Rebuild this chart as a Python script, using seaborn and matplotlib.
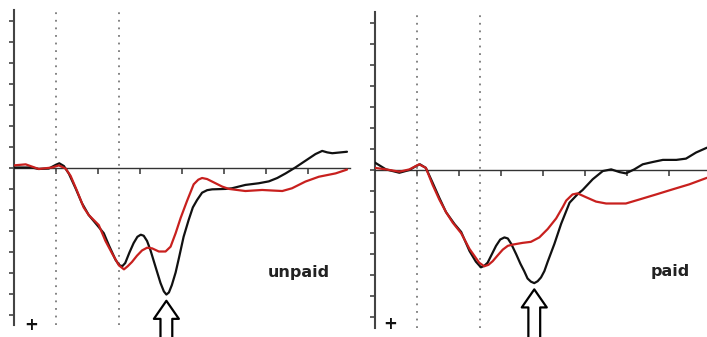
import matplotlib
matplotlib.use("Agg")
import matplotlib.pyplot as plt
import pandas as pd
import seaborn as sns

# Grand-average waveforms (ms, amplitude; positive plotted downward)
unpaid_black_t = [-100, -56, -40, -16, 0, 9, 20, 32, 48, 63, 79, 99, 115, 127, 143, 152,
                  159, 166, 176, 186, 195, 203, 210, 218, 226, 238, 250, 258, 264, 270,
                  277, 286, 294, 305, 317, 327, 337, 349, 361, 373, 405, 420, 452, 484,
                  508, 528, 548, 571, 595, 619, 635, 647, 659, 694]
unpaid_black_v = [0.0, 0.0, 0.07, 0.05, -0.12, -0.2, -0.07, 0.3, 1.0, 1.7, 2.26, 2.74,
                  3.13, 3.7, 4.4, 4.65, 4.7, 4.55, 4.05, 3.6, 3.3, 3.2, 3.25, 3.5, 3.93,
                  4.72, 5.5, 5.9, 6.05, 5.95, 5.6, 5.0, 4.3, 3.3, 2.5, 1.9, 1.55, 1.2, 1.08,
                  1.04, 1.02, 0.99, 0.83, 0.75, 0.66, 0.5, 0.28, 0.0, -0.32, -0.64, -0.79,
                  -0.72, -0.68, -0.75]

unpaid_red_t = [-100, -71, -40, -8, 8, 24, 36, 51, 67, 79, 103, 119, 135, 151, 163, 172,
                182, 194, 206, 218, 230, 246, 262, 274, 286, 298, 313, 329, 340, 349, 361,
                373, 397, 413, 452, 492, 520, 540, 563, 595, 627, 667, 694]
unpaid_red_v = [-0.1, -0.15, 0.07, 0.0, -0.1, 0.05, 0.4, 1.1, 1.9, 2.26, 2.74, 3.5, 4.1,
                4.66, 4.85, 4.7, 4.5, 4.2, 3.95, 3.82, 3.85, 4.0, 4.0, 3.77, 3.13, 2.4,
                1.6, 0.8, 0.58, 0.5, 0.55, 0.67, 0.91, 1.02, 1.12, 1.07, 1.1, 1.12, 0.99,
                0.67, 0.44, 0.28, 0.1]

paid_black_t = [-100, -74, -42, -18, -2, 7, 21, 37, 53, 69, 89, 105, 125, 140, 152, 160,
                168, 178, 188, 198, 208, 216, 224, 236, 246, 255, 263, 271, 279, 287, 295,
                303, 311, 327, 343, 363, 382, 394, 418, 442, 462, 482, 497, 517, 537, 561,
                585, 617, 640, 664, 690]
paid_black_v = [-0.35, -0.03, 0.13, 0.0, -0.19, -0.27, -0.1, 0.6, 1.32, 2.0, 2.56, 2.94,
                3.85, 4.35, 4.62, 4.55, 4.4, 4.0, 3.6, 3.3, 3.2, 3.25, 3.5, 4.0, 4.45, 4.8,
                5.15, 5.3, 5.37, 5.28, 5.1, 4.8, 4.35, 3.5, 2.55, 1.55, 1.15, 0.95, 0.44,
                0.05, -0.03, 0.1, 0.16, -0.03, -0.27, -0.38, -0.48, -0.48, -0.54, -0.83,
                -1.06]

paid_red_t = [-100, -74, -42, -18, 5, 21, 37, 53, 69, 85, 105, 125, 148, 160, 170, 180,
              192, 204, 216, 228, 251, 271, 291, 311, 331, 347, 355, 370, 382, 402, 426,
              450, 497, 529, 569, 608, 648, 690]
paid_red_v = [-0.1, -0.03, 0.08, -0.03, -0.27, -0.1, 0.7, 1.4, 2.0, 2.5, 3.0, 3.75, 4.4,
              4.57, 4.5, 4.33, 4.05, 3.78, 3.6, 3.54, 3.46, 3.41, 3.2, 2.8, 2.3, 1.75,
              1.45, 1.16, 1.11, 1.29, 1.5, 1.59, 1.59, 1.4, 1.16, 0.92, 0.68, 0.37]

marker_times = [0, 150]
time_ticks = [0, 100, 200, 300, 400, 500, 600]
amp_ticks = list(range(-7, 8))

BLACK = "#111111"
RED = "#c8201e"

sns.set_style("white")
plt.rcParams["font.family"] = ["DejaVu Sans"]

W, H = 707, 337
fig = plt.figure(figsize=(W / 100, H / 100), dpi=100)


def add_px_axes(x0, y0, x1, y1):
    return fig.add_axes([x0 / W, 1 - y1 / H, (x1 - x0) / W, (y1 - y0) / H])


panels = [
    dict(box=(13.5, 10, 349.5, 325), xlim=(-100, 700), name="unpaid",
         black=(unpaid_black_t, unpaid_black_v), red=(unpaid_red_t, unpaid_red_v),
         label_xy=(579, 5.2), plus_xy=(-59, 7.5)),
    dict(box=(375, 12, 707, 328), xlim=(-100, 690), name="paid",
         black=(paid_black_t, paid_black_v), red=(paid_red_t, paid_red_v),
         label_xy=(603, 5.05), plus_xy=(-64, 7.3)),
]

for p in panels:
    ax = add_px_axes(*p["box"])
    frame = pd.concat([
        pd.DataFrame({"t": p["black"][0], "v": p["black"][1], "wave": "black"}),
        pd.DataFrame({"t": p["red"][0], "v": p["red"][1], "wave": "red"}),
    ], ignore_index=True)
    sns.lineplot(data=frame, x="t", y="v", hue="wave",
                 palette={"black": BLACK, "red": RED}, hue_order=["black", "red"],
                 legend=False, ax=ax, linewidth=1.6, estimator=None, sort=True,
                 solid_joinstyle="round", solid_capstyle="round", zorder=3)

    for m in marker_times:
        ax.axvline(m, color="#7a7a7a", lw=1.3, ls=(0, (1, 3.2)), zorder=1)

    ax.set_xlim(*p["xlim"])
    ax.set_ylim(7.5, -7.5)
    ax.set_xticks(time_ticks)
    ax.set_yticks(amp_ticks)
    ax.set_xticklabels([])
    ax.set_yticklabels([])
    ax.set_xlabel("")
    ax.set_ylabel("")

    for side in ("top", "right"):
        ax.spines[side].set_visible(False)
    ax.spines["bottom"].set_position(("data", 0))
    ax.spines["bottom"].set_color("#333333")
    ax.spines["bottom"].set_linewidth(1.0)
    ax.spines["left"].set_color("#444444")
    ax.spines["left"].set_linewidth(1.5)
    ax.tick_params(axis="x", bottom=True, direction="out", length=4.5, width=1.1,
                   color="#333333")
    ax.tick_params(axis="y", left=True, direction="out", length=3.5, width=1.2,
                   color="#444444")

    ax.text(*p["label_xy"], p["name"], ha="center", va="baseline", fontsize=11.5,
            fontweight="bold", color="#222222")
    ax.text(*p["plus_xy"], "+", ha="center", va="center", fontsize=12,
            fontweight="bold", color="#111111", clip_on=False)

    # hollow arrow pointing at the deepest point of the black waveform
    bt, bv = p["black"]
    k = max(range(len(bv)), key=lambda i: bv[i])
    ax.annotate("", xy=(bt[k], bv[k]), xytext=(0, -42), textcoords="offset points",
                arrowprops=dict(arrowstyle="simple,head_length=1.3,head_width=1.8,tail_width=0.85",
                                fc="white", ec="black", lw=1.6, shrinkA=0, shrinkB=4.5),
                annotation_clip=False)

fig.savefig("out.png", dpi=100)
